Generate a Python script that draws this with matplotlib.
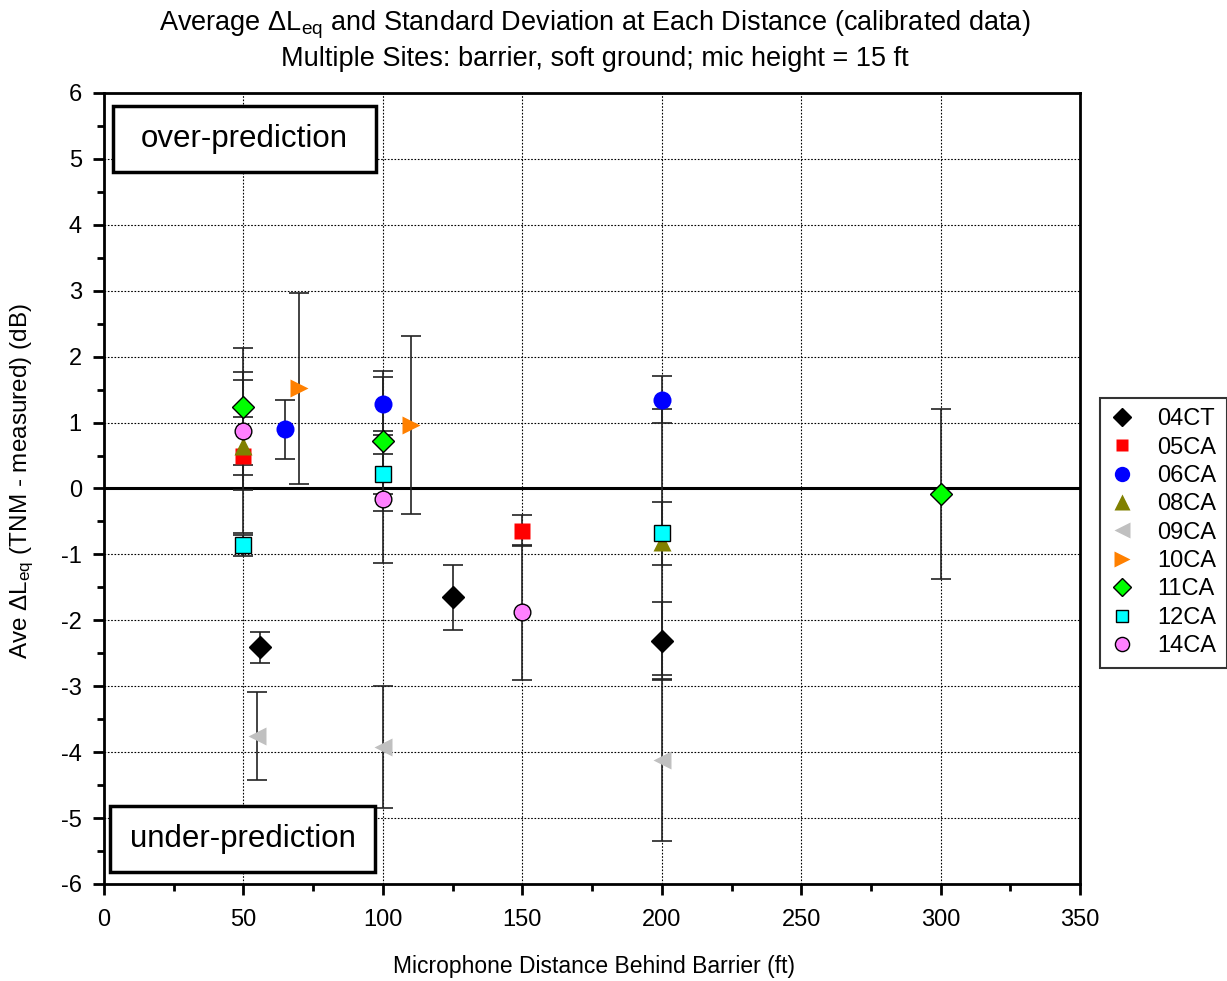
import matplotlib
matplotlib.use("Agg")
import matplotlib.pyplot as plt
from matplotlib.lines import Line2D
from matplotlib.patches import Rectangle
from matplotlib.ticker import MultipleLocator

plt.rcParams["font.family"] = ["Liberation Sans", "DejaVu Sans"]
plt.rcParams["mathtext.fontset"] = "custom"
plt.rcParams["mathtext.rm"] = "Liberation Sans"
plt.rcParams["mathtext.it"] = "Liberation Sans"
plt.rcParams["axes.unicode_minus"] = False

# site data: distance (ft), mean delta Leq (dB), standard deviation (dB)
sites = ["04CT", "05CA", "06CA", "08CA", "09CA", "10CA", "11CA", "12CA", "14CA"]

x_04CT = [56, 125, 200]
y_04CT = [-2.41, -1.65, -2.31]
sd_04CT = [0.24, 0.49, 0.59]

x_05CA = [50, 150]
y_05CA = [0.49, -0.64]
sd_05CA = [1.16, 0.24]

x_06CA = [65, 100, 200]
y_06CA = [0.90, 1.28, 1.35]
sd_06CA = [0.45, 0.41, 0.36]

x_08CA = [50, 200]
y_08CA = [0.64, -0.81]
sd_08CA = [0.44, 2.02]

x_09CA = [55, 100, 200]
y_09CA = [-3.76, -3.92, -4.12]
sd_09CA = [0.67, 0.93, 1.23]

x_10CA = [70, 110]
y_10CA = [1.52, 0.96]
sd_10CA = [1.45, 1.35]

x_11CA = [50, 100, 300]
y_11CA = [1.24, 0.72, -0.08]
sd_11CA = [0.89, 1.06, 1.29]

x_12CA = [50, 100, 200]
y_12CA = [-0.86, 0.22, -0.68]
sd_12CA = [0.16, 0.30, 0.48]

x_14CA = [50, 100, 150]
y_14CA = [0.87, -0.16, -1.88]
sd_14CA = [0.89, 0.97, 1.02]

data = {
    "04CT": (x_04CT, y_04CT, sd_04CT),
    "05CA": (x_05CA, y_05CA, sd_05CA),
    "06CA": (x_06CA, y_06CA, sd_06CA),
    "08CA": (x_08CA, y_08CA, sd_08CA),
    "09CA": (x_09CA, y_09CA, sd_09CA),
    "10CA": (x_10CA, y_10CA, sd_10CA),
    "11CA": (x_11CA, y_11CA, sd_11CA),
    "12CA": (x_12CA, y_12CA, sd_12CA),
    "14CA": (x_14CA, y_14CA, sd_14CA),
}

# marker, face colour, edge colour, size
styles = {
    "04CT": ("D", "black", "black", 11),
    "05CA": ("s", "#ff0000", "none", 11),
    "06CA": ("o", "#0000ff", "none", 13),
    "08CA": ("^", "#808000", "none", 13),
    "09CA": ("<", "#c0c0c0", "none", 13),
    "10CA": (">", "#ff8000", "none", 13),
    "11CA": ("D", "#00ff00", "black", 11),
    "12CA": ("s", "#00ffff", "black", 11),
    "14CA": ("o", "#ff80ff", "black", 12),
}

fig = plt.figure(figsize=(12.27, 9.81), dpi=100)
ax = fig.add_axes([0.0848, 0.0989, 0.7955, 0.8063])

ax.axhline(0, color="black", lw=2.2, zorder=1.5)

handles = []
for s in sites:
    xs, ys, sds = data[s]
    m, fc, ec, ms = styles[s]
    ax.errorbar(xs, ys, yerr=sds, fmt="none", ecolor="#222222", elinewidth=1.2,
                capsize=7, capthick=1.2, zorder=2)
    ax.plot(xs, ys, linestyle="none", marker=m, markersize=ms, markerfacecolor=fc,
            markeredgecolor=ec, markeredgewidth=1.0, zorder=3)
    handles.append(Line2D([], [], linestyle="none", marker=m, markersize=ms * 0.85,
                          markerfacecolor=fc, markeredgecolor=ec, markeredgewidth=1.0,
                          label=s))

ax.set_xlim(0, 350)
ax.set_ylim(-6, 6)
ax.xaxis.set_major_locator(MultipleLocator(50))
ax.xaxis.set_minor_locator(MultipleLocator(25))
ax.yaxis.set_major_locator(MultipleLocator(1))
ax.yaxis.set_minor_locator(MultipleLocator(0.5))
ax.grid(True, which="major", color="black", linestyle=(0, (1.5, 1.5)), linewidth=0.8)
ax.set_axisbelow(True)
ax.tick_params(which="both", direction="out", labelsize=17, width=2, top=False, right=False)
ax.tick_params(which="major", length=8)
ax.tick_params(which="minor", length=5)
ax.tick_params(axis="x", pad=10)
ax.tick_params(axis="y", pad=8)
for sp in ax.spines.values():
    sp.set_linewidth(2)

fig.text(594 / 1227, 1 - 967 / 981, "Microphone Distance Behind Barrier (ft)",
         fontsize=16.5, ha="center", va="center")
fig.text(22 / 1227, 1 - 481 / 981, r"Ave $\Delta$L$_{\rm eq}$ (TNM - measured) (dB)",
         fontsize=17.5, ha="center", va="center", rotation=90)
fig.text(595 / 1227, 1 - 25 / 981,
         r"Average $\Delta$L$_{\rm eq}$ and Standard Deviation at Each Distance (calibrated data)",
         fontsize=19.5, ha="center", va="center")
fig.text(595 / 1227, 1 - 59 / 981, "Multiple Sites: barrier, soft ground; mic height = 15 ft",
         fontsize=19.5, ha="center", va="center")

# annotation boxes
for (x0, y0, w, h), label in [((0.0092, 0.900, 0.2695, 0.0836), "over-prediction"),
                              ((0.0061, 0.0152, 0.2716, 0.0834), "under-prediction")]:
    ax.add_patch(Rectangle((x0, y0), w, h, transform=ax.transAxes, facecolor="white",
                           edgecolor="black", linewidth=2.5, zorder=5))
    ax.text(x0 + w / 2, y0 + h / 2, label, transform=ax.transAxes, fontsize=22.5,
            ha="center", va="center", zorder=6)

leg = ax.legend(handles=handles, loc="upper left", bbox_to_anchor=(1.02, 0.615),
                borderaxespad=0, fontsize=17, frameon=True, fancybox=False,
                handletextpad=1.0, labelspacing=0.27, borderpad=0.45, handlelength=1.0)
leg.get_frame().set_edgecolor("black")
leg.get_frame().set_linewidth(1.5)

fig.savefig("out.png", dpi=100)
